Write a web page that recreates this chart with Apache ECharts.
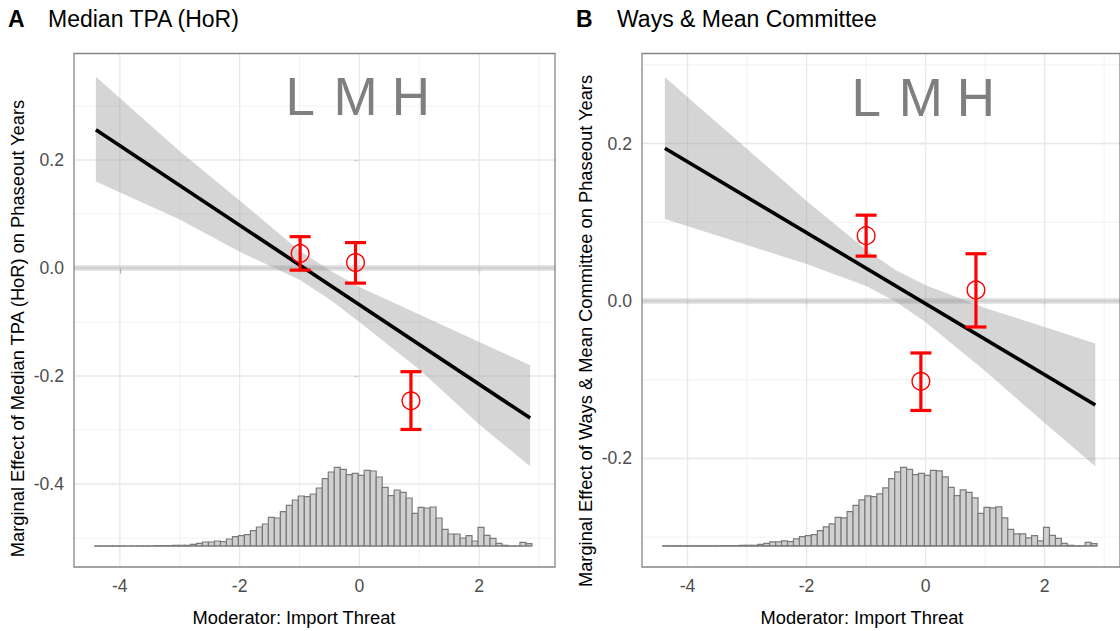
<!DOCTYPE html>
<html><head><meta charset="utf-8">
<script src="https://cdn.jsdelivr.net/npm/echarts@6/dist/echarts.min.js"></script>
<style>html,body{margin:0;padding:0;background:#fff}#c{width:1120px;height:631px}</style>
</head><body><div id="c"></div>
<script>
// ---------------- data ----------------
const FONT = '"Liberation Sans", Arial, Helvetica, sans-serif';
const X_RANGE = [-4.765, 3.265];
const X_TICKS = [-4, -2, 0, 2];
const X_MINOR = [-3, -1, 1, 3];

const A_TITLE_TAG = 'A';
const A_TITLE = 'Median TPA (HoR)';
const A_Y_TITLE = 'Marginal Effect of Median TPA (HoR) on Phaseout Years';
const A_Y_RANGE = [-0.5537, 0.3972];
const A_Y_TICKS = [-0.4, -0.2, 0.0, 0.2];
const A_Y_MINOR = [-0.5, -0.3, -0.1, 0.1, 0.3];
const A_LINE_X = [-4.4, 2.85];
const A_LINE_Y = [0.256, -0.278];
const A_BAND_X  = [-4.4, -3, -2, -1, -0.5, 0, 1, 2, 2.85];
const A_BAND_LO = [0.160, 0.090, 0.030, -0.022, -0.058, -0.100, -0.188, -0.290, -0.367];
const A_BAND_HI = [0.354, 0.216, 0.125, 0.032, -0.004, -0.035, -0.086, -0.137, -0.180];
const A_PT_X  = [-0.99, -0.065, 0.86];
const A_PT_Y  = [0.027, 0.010, -0.246];
const A_PT_LO = [-0.004, -0.028, -0.299];
const A_PT_HI = [0.058, 0.047, -0.192];
const A_LMH_Y = 0.317;
const A_HIST_BASE = -0.5148;
const A_HIST_TOP = -0.3691;

const B_TITLE_TAG = 'B';
const B_TITLE = 'Ways & Mean Committee';
const B_Y_TITLE = 'Marginal Effect of Ways & Mean Committee on Phaseout Years';
const B_Y_RANGE = [-0.3378, 0.3143];
const B_Y_TICKS = [-0.2, 0.0, 0.2];
const B_Y_MINOR = [-0.3, -0.1, 0.1, 0.3];
const B_LINE_X = [-4.38, 2.85];
const B_LINE_Y = [0.194, -0.132];
const B_BAND_X  = [-4.38, -3, -2, -1, -0.5, 0, 1, 2, 2.85];
const B_BAND_LO = [0.104, 0.071, 0.047, 0.019, -0.001, -0.027, -0.089, -0.155, -0.210];
const B_BAND_HI = [0.284, 0.193, 0.127, 0.065, 0.039, 0.020, -0.009, -0.033, -0.054];
const B_PT_X  = [-1.0, -0.08, 0.845];
const B_PT_Y  = [0.083, -0.102, 0.014];
const B_PT_LO = [0.057, -0.139, -0.033];
const B_PT_HI = [0.109, -0.066, 0.060];
const B_LMH_Y = 0.259;
const B_HIST_BASE = -0.3111;
const B_HIST_TOP = -0.2112;

const X_TITLE = 'Moderator: Import Threat';
const LMH_LABELS = ['L', 'M', 'H'];

// histogram of the moderator (relative counts), bins of width 0.1 starting at -4.42
const HIST_START = -4.42;
const HIST_BIN = 0.1;
const HIST_COUNTS = [
  0, 0, 0, 0, 0, 0, 0, 0, 0, 0,
  1, 1, 1, 2, 2, 2, 5, 8, 12, 12,
  15, 13, 21, 28, 31, 34, 46, 57, 66, 86,
  84, 103, 122, 138, 150, 148, 156, 174, 202, 222,
  236, 230, 214, 218, 212, 227, 225, 207, 176, 151,
  168, 161, 144, 98, 116, 114, 117, 84, 50, 36,
  36, 24, 31, 15, 56, 32, 23, 8, 2, 0,
  0, 11, 7
];

// ---------------- styling / layout ----------------
const GRID_MAJOR = '#e8e8e8', GRID_MINOR = '#f1f1f1';
const BORDER = '#858585';
const LAYOUT = [
  {left: 74, top: 53.5, width: 481, height: 513.5, tagX: 8, titleX: 48, yTitleX: 17, yTitleY: 328.5, xTitleX: 294},
  {left: 642, top: 53.5, width: 481, height: 513.5, tagX: 576, titleX: 617, yTitleX: 585, yTitleY: 331, xTitleX: 862}
];

const PANELS = [
  {tag: A_TITLE_TAG, title: A_TITLE, yTitle: A_Y_TITLE, yRange: A_Y_RANGE, yTicks: A_Y_TICKS, yMinor: A_Y_MINOR,
   lineX: A_LINE_X, lineY: A_LINE_Y, bandX: A_BAND_X, bandLo: A_BAND_LO, bandHi: A_BAND_HI,
   ptX: A_PT_X, ptY: A_PT_Y, ptLo: A_PT_LO, ptHi: A_PT_HI, lmhY: A_LMH_Y, histBase: A_HIST_BASE, histTop: A_HIST_TOP},
  {tag: B_TITLE_TAG, title: B_TITLE, yTitle: B_Y_TITLE, yRange: B_Y_RANGE, yTicks: B_Y_TICKS, yMinor: B_Y_MINOR,
   lineX: B_LINE_X, lineY: B_LINE_Y, bandX: B_BAND_X, bandLo: B_BAND_LO, bandHi: B_BAND_HI,
   ptX: B_PT_X, ptY: B_PT_Y, ptLo: B_PT_LO, ptHi: B_PT_HI, lmhY: B_LMH_Y, histBase: B_HIST_BASE, histTop: B_HIST_TOP}
];

const chart = echarts.init(document.getElementById('c'), null, {renderer: 'svg', width: 1120, height: 631});

const grids = [], xAxes = [], yAxes = [], series = [], graphics = [];
const maxCount = Math.max.apply(null, HIST_COUNTS);

PANELS.forEach((P, i) => {
  const L = LAYOUT[i];
  grids.push({left: L.left, top: L.top, width: L.width, height: L.height, show: false});
  xAxes.push({
    gridIndex: i, type: 'value', min: X_RANGE[0], max: X_RANGE[1],
    axisLine: {show: false}, splitLine: {show: false},
    axisTick: {show: true, length: 5.5, customValues: X_TICKS, lineStyle: {color: BORDER, width: 1.2}},
    axisLabel: {customValues: X_TICKS, color: '#4d4d4d', fontSize: 17.6, fontFamily: FONT, margin: 10,
      formatter: v => String(v)}
  });
  yAxes.push({
    gridIndex: i, type: 'value', min: P.yRange[0], max: P.yRange[1],
    axisLine: {show: false}, splitLine: {show: false},
    axisTick: {show: true, length: 5.5, customValues: P.yTicks, lineStyle: {color: BORDER, width: 1.2}},
    axisLabel: {customValues: P.yTicks, color: '#4d4d4d', fontSize: 17.6, fontFamily: FONT, margin: 10,
      formatter: v => v.toFixed(1)}
  });
  const base = {xAxisIndex: i, yAxisIndex: i, silent: true, animation: false};

  // gridlines
  series.push(Object.assign({}, base, {
    type: 'custom', z: 1, data: [[0, 0]],
    renderItem: (params, api) => {
      const ch = [];
      const vline = (v, col, w) => { const a = api.coord([v, P.yRange[0]]), b = api.coord([v, P.yRange[1]]);
        ch.push({type: 'line', shape: {x1: a[0], y1: a[1], x2: b[0], y2: b[1]}, style: {stroke: col, lineWidth: w}}); };
      const hline = (v, col, w) => { const a = api.coord([X_RANGE[0], v]), b = api.coord([X_RANGE[1], v]);
        ch.push({type: 'line', shape: {x1: a[0], y1: a[1], x2: b[0], y2: b[1]}, style: {stroke: col, lineWidth: w}}); };
      X_MINOR.forEach(v => vline(v, GRID_MINOR, 0.9));
      P.yMinor.forEach(v => hline(v, GRID_MINOR, 0.9));
      X_TICKS.forEach(v => vline(v, GRID_MAJOR, 1.3));
      P.yTicks.forEach(v => hline(v, GRID_MAJOR, 1.3));
      return {type: 'group', children: ch};
    }
  }));

  // zero reference line
  series.push(Object.assign({}, base, {
    type: 'line', z: 2, symbol: 'none', data: [[X_RANGE[0], 0], [X_RANGE[1], 0]],
    lineStyle: {color: 'rgba(150,150,150,0.32)', width: 5.5}
  }));

  // histogram
  const hScale = (P.histTop - P.histBase) / maxCount;
  const hData = HIST_COUNTS.map((c, k) => [HIST_START + k * HIST_BIN, HIST_START + (k + 1) * HIST_BIN, c]);
  series.push(Object.assign({}, base, {
    type: 'custom', z: 3, data: hData,
    renderItem: (params, api) => {
      const s = api.value(0), e = api.value(1), n = api.value(2);
      const p0 = api.coord([s, P.histBase]), p1 = api.coord([e, P.histBase + n * hScale]);
      return {type: 'rect', shape: {x: p0[0], y: p1[1], width: p1[0] - p0[0], height: Math.max(p0[1] - p1[1], 0.01)},
        style: {fill: '#d0d0d0', stroke: '#7a7a7a', lineWidth: 1.2}};
    }
  }));
  // histogram baseline
  series.push(Object.assign({}, base, {
    type: 'line', z: 3, symbol: 'none',
    data: [[HIST_START, P.histBase], [HIST_START + HIST_COUNTS.length * HIST_BIN, P.histBase]],
    lineStyle: {color: '#7a7a7a', width: 1.2}
  }));

  // confidence band
  series.push(Object.assign({}, base, {
    type: 'custom', z: 4, data: [[0, 0]],
    renderItem: (params, api) => {
      const pts = [];
      P.bandX.forEach((x, k) => pts.push(api.coord([x, P.bandHi[k]])));
      for (let k = P.bandX.length - 1; k >= 0; k--) pts.push(api.coord([P.bandX[k], P.bandLo[k]]));
      return {type: 'polygon', shape: {points: pts}, style: {fill: 'rgba(150,150,150,0.4)'}};
    }
  }));

  // marginal effect line
  series.push(Object.assign({}, base, {
    type: 'line', z: 5, symbol: 'none', data: P.lineX.map((x, k) => [x, P.lineY[k]]),
    lineStyle: {color: '#000', width: 3.6}
  }));

  // binned estimates with error bars
  series.push(Object.assign({}, base, {
    type: 'custom', z: 6, data: P.ptX.map((x, k) => [x, P.ptY[k], P.ptLo[k], P.ptHi[k]]),
    renderItem: (params, api) => {
      const x = api.value(0);
      const c = api.coord([x, api.value(1)]), lo = api.coord([x, api.value(2)]), hi = api.coord([x, api.value(3)]);
      const hw = 10.5, st = {stroke: '#ff0000', lineWidth: 3.2};
      return {type: 'group', children: [
        {type: 'line', shape: {x1: lo[0], y1: lo[1], x2: hi[0], y2: hi[1]}, style: st},
        {type: 'line', shape: {x1: lo[0] - hw, y1: lo[1], x2: lo[0] + hw, y2: lo[1]}, style: st},
        {type: 'line', shape: {x1: hi[0] - hw, y1: hi[1], x2: hi[0] + hw, y2: hi[1]}, style: st},
        {type: 'circle', shape: {cx: c[0], cy: c[1], r: 8.8}, style: {fill: 'none', stroke: '#ff0000', lineWidth: 1.4}}
      ]};
    }
  }));

  // L M H labels
  series.push(Object.assign({}, base, {
    type: 'custom', z: 7, data: P.ptX.map((x, k) => [x, P.lmhY, k]),
    renderItem: (params, api) => {
      const p = api.coord([api.value(0), api.value(1)]);
      return {type: 'text', x: p[0], y: p[1], style: {text: LMH_LABELS[api.value(2)], fill: '#7f7f7f',
        font: '53px ' + FONT, textAlign: 'center', textVerticalAlign: 'middle'}};
    }
  }));

  // panel border
  series.push(Object.assign({}, base, {
    type: 'custom', z: 8, data: [[0, 0]],
    renderItem: (params, api) => {
      const a = api.coord([X_RANGE[0], P.yRange[1]]), b = api.coord([X_RANGE[1], P.yRange[0]]);
      return {type: 'rect', shape: {x: a[0], y: a[1], width: b[0] - a[0], height: b[1] - a[1]},
        style: {fill: 'none', stroke: BORDER, lineWidth: 1.3}};
    }
  }));

  graphics.push({type: 'text', x: L.tagX, y: 19, style: {text: P.tag, font: 'bold 23px ' + FONT, fill: '#000', textVerticalAlign: 'middle'}});
  graphics.push({type: 'text', x: L.titleX, y: 19, style: {text: P.title, font: '23px ' + FONT, fill: '#000', textVerticalAlign: 'middle'}});
  graphics.push({type: 'text', x: L.yTitleX, y: L.yTitleY, rotation: Math.PI / 2,
    style: {text: P.yTitle, font: '18.3px ' + FONT, fill: '#000', textAlign: 'center', textVerticalAlign: 'middle'}});
  graphics.push({type: 'text', x: L.xTitleX, y: 617,
    style: {text: X_TITLE, font: '18.3px ' + FONT, fill: '#000', textAlign: 'center', textVerticalAlign: 'middle'}});
});

chart.setOption({
  backgroundColor: '#fff',
  animation: false,
  grid: grids, xAxis: xAxes, yAxis: yAxes, series: series, graphic: graphics
});
</script></body></html>
